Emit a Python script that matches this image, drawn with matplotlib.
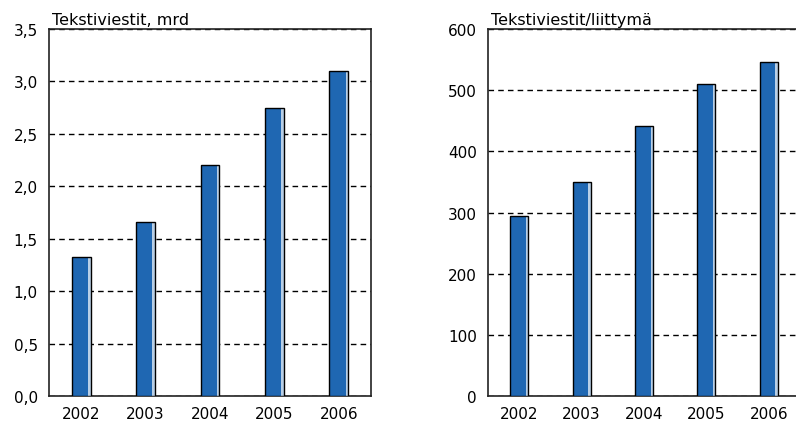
import matplotlib.pyplot as plt
from matplotlib.ticker import FuncFormatter

years = ["2002", "2003", "2004", "2005", "2006"]
messages_bn = [1.33, 1.66, 2.20, 2.75, 3.10]
messages_per_sub = [294, 350, 441, 510, 546]

BLUE = "#1f67b2"
LIGHT = "#b9cfe6"

plt.rcParams["font.family"] = ["DejaVu Sans"]

fig = plt.figure(figsize=(7.96, 4.27), dpi=100)
ax1 = fig.add_axes([49 / 796, 1 - 397 / 427, 322 / 796, 367 / 427])
ax2 = fig.add_axes([488 / 796, 1 - 397 / 427, 312 / 796, 367 / 427])


def draw_bars(ax, values):
    x = range(len(values))
    w = 0.29
    # light strip on the right, blue body, black outline
    ax.bar(x, values, width=w, color=LIGHT, edgecolor="none", zorder=3)
    ax.bar([i - 0.02 for i in x], values, width=w - 0.04,
           color=BLUE, edgecolor="none", zorder=4)
    ax.bar(x, values, width=w, facecolor="none", edgecolor="black", linewidth=1.0, zorder=5)
    ax.set_xlim(-0.5, len(values) - 0.5)
    ax.set_xticks(list(x))
    ax.set_xticklabels(years)
    ax.tick_params(length=0, labelsize=11, pad=7)
    ax.tick_params(axis="y", pad=8)
    ax.yaxis.grid(True, linestyle=(0, (4, 3)), color="black", linewidth=1.0)
    ax.set_axisbelow(True)
    for s in ax.spines.values():
        s.set_linewidth(1.2)
        s.set_color("#222222")


draw_bars(ax1, messages_bn)
ax1.set_ylim(0, 3.5)
ax1.set_yticks([0, 0.5, 1.0, 1.5, 2.0, 2.5, 3.0, 3.5])
ax1.yaxis.set_major_formatter(FuncFormatter(lambda v, p: f"{v:.1f}".replace(".", ",")))
ax1.text(0.01, 1.005, "Tekstiviestit, mrd", transform=ax1.transAxes, fontsize=11.5,
         ha="left", va="bottom")

draw_bars(ax2, messages_per_sub)
ax2.set_ylim(0, 600)
ax2.set_yticks(range(0, 601, 100))
ax2.text(0.01, 1.005, "Tekstiviestit/liittymä", transform=ax2.transAxes, fontsize=11.5,
         ha="left", va="bottom")

fig.savefig("out.png", dpi=100)
